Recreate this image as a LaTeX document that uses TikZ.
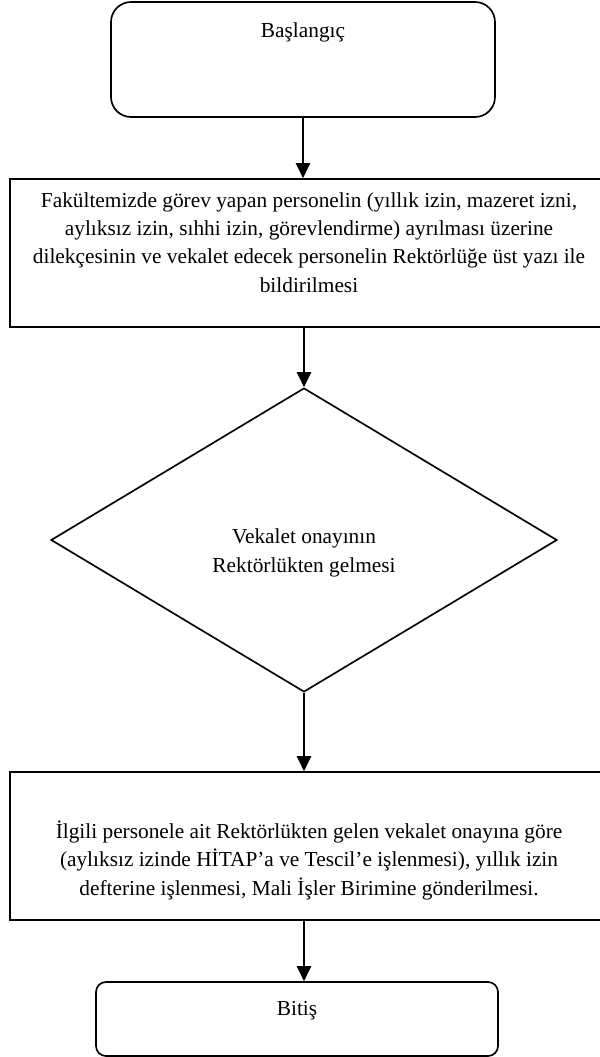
\documentclass[tikz,border=0pt]{standalone}
\usepackage{fontspec}
\setmainfont{Liberation Serif}
\usetikzlibrary{shapes.geometric, arrows.meta}
\tikzset{
  uckutu/.style={rectangle, rounded corners=12pt, draw, line width=1pt,
    inner sep=0pt, align=center},
  islemkutu/.style={rectangle, draw, line width=1pt, inner sep=0pt,
    align=center},
  kararkutu/.style={diamond, draw, line width=1pt, inner sep=0pt,
    align=center},
  ok/.style={-{Triangle[length=9pt, width=8.5pt]}, line width=1pt}
}

\begin{document}
\begin{tikzpicture}[x=0.6pt, y=-0.6pt, font=\fontsize{12.8}{17}\selectfont]
  \useasboundingbox (0,0) rectangle (600,1057);

  % --- Kutular ---
  \node[uckutu, minimum width=230.4pt, minimum height=69pt,
    text height=21pt, text depth=48pt] (basla) at (303,59.5) {Başlangıç};

  \node[islemkutu, minimum width=358.8pt, minimum height=88.8pt,
    text height=67.8pt, text depth=21pt] (dilekce) at (309,253)
    {Fakültemizde görev yapan personelin (yıllık izin, mazeret izni,\\
     aylıksız izin, sıhhi izin, görevlendirme) ayrılması üzerine\\
     dilekçesinin ve vekalet edecek personelin Rektörlüğe üst yazı ile\\
     bildirilmesi};

  \node[kararkutu, minimum width=303.6pt, minimum height=182.4pt,
    text height=43.4pt, text depth=5pt] (onay) at (304,540)
    {Vekalet onayının\\ Rektörlükten gelmesi};

  \node[islemkutu, minimum width=358.8pt, minimum height=88.8pt,
    text height=73.8pt, text depth=15pt] (isleme) at (309,846)
    {İlgili personele ait Rektörlükten gelen vekalet onayına göre\\
     (aylıksız izinde HİTAP’a ve Tescil’e işlenmesi), yıllık izin\\
     defterine işlenmesi, Mali İşler Birimine gönderilmesi.};

  \node[uckutu, rounded corners=6pt, minimum width=241.2pt, minimum height=44.4pt,
    text height=19.8pt, text depth=24.6pt] (bitis) at (297,1019) {Bitiş};

  % --- Oklar ---
  \draw[ok] (basla.south) -- (basla.south |- dilekce.north);
  \draw[ok] (onay.north |- dilekce.south) -- (onay.north);
  \draw[ok] (onay.south) -- (onay.south |- isleme.north);
  \draw[ok] (onay.south |- isleme.south) -- (onay.south |- bitis.north);

\end{tikzpicture}
\end{document}
